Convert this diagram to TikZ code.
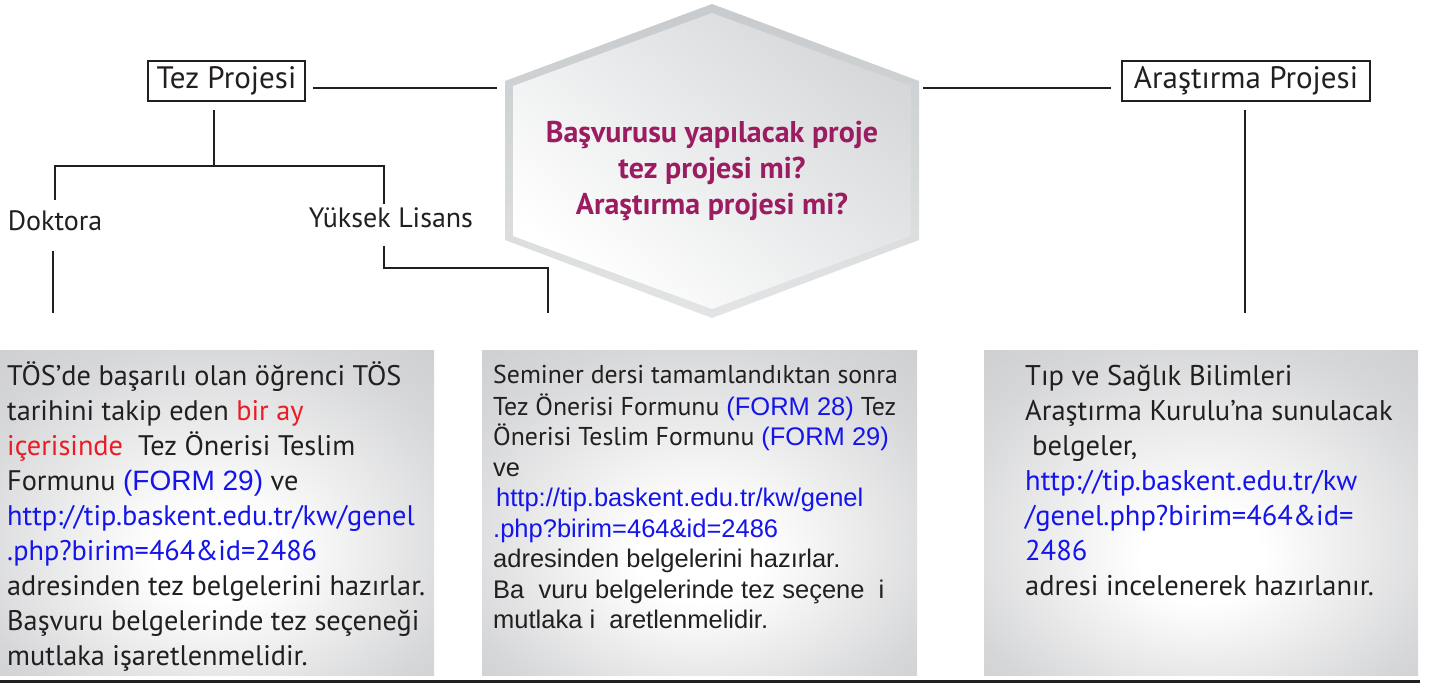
\documentclass[tikz,border=0pt]{standalone}
\usepackage{fontspec}
\setmainfont{PT Sans}
\newfontfamily\arialf{Liberation Sans}
\usetikzlibrary{calc}
\definecolor{ink}{RGB}{35,31,32}
\definecolor{qcol}{RGB}{155,28,96}
\definecolor{lnk}{RGB}{20,20,235}
\definecolor{redt}{RGB}{235,28,36}
\definecolor{boxgray}{RGB}{200,201,203}
\definecolor{hexgray}{RGB}{200,203,205}
\definecolor{hexlight}{RGB}{226,228,229}
\pgfdeclareradialshading{boxshade}{\pgfpoint{0bp}{-8bp}}{color(0bp)=(white); color(7bp)=(white); color(30bp)=(boxgray!75!white); color(44bp)=(boxgray); color(50bp)=(boxgray)}
\newcommand\arL{\arialf\fontsize{28}{35}\selectfont}
\newcommand\arM{\arialf\fontsize{25.5}{30.5}\selectfont}
\tikzset{
  conn/.style={draw=ink, line width=2.6pt},
  lbl/.style={inner sep=0pt, text=ink, font=\fontsize{28}{33}\selectfont},
  framebox/.style={draw=ink, line width=2.2pt, inner sep=0pt, text=ink, font=\fontsize{31}{33}\selectfont, minimum height=40pt},
  infobox/.style={shade, shading=boxshade, anchor=north west, minimum height=325pt, inner sep=0pt},
  infotext/.style={anchor=north west, inner sep=0pt, align=left, text=ink},
}
\begin{document}
\begin{tikzpicture}[x=1pt,y=-1pt]
\useasboundingbox (0,0) rectangle (1440,684);
% hexagon
\coordinate (hN) at (712,4);
\coordinate (hNE) at (919,81);
\coordinate (hSE) at (919,240);
\coordinate (hS) at (712,318);
\coordinate (hSW) at (505,240);
\coordinate (hNW) at (505,81);
\shade[top color=hexgray, bottom color=hexlight] (hN) -- (hNE) -- (hSE) -- (hS) -- (hSW) -- (hNW) -- cycle;
\shade[top color=hexgray!75!white, bottom color=white, shading angle=-40] (712,13) -- (911,86) -- (911,236) -- (712,309) -- (513,236) -- (513,86) -- cycle;
\node[anchor=north, inner sep=0pt, align=center, text=qcol, font=\bfseries\fontsize{30}{36}\selectfont] (q) at (712,117) {\strut Başvurusu yapılacak proje\\tez projesi mi?\\Araştırma projesi mi?};
\coordinate (hexW) at (505,160);
\coordinate (hexE) at (919,160);

% top labels
\node[framebox, minimum width=157pt] (tez) at (226.5,81) {Tez Projesi};
\node[framebox, minimum width=248pt] (ara) at (1246,81) {Araştırma Projesi};
\node[lbl, anchor=base] (dok) at (55,231) {Doktora};
\node[lbl, anchor=base] (yl) at (391,228) {Yüksek Lisans};

% info boxes
\node[infobox, minimum width=434pt] (b1) at (0,350) {};
\node[infobox, minimum width=435pt] (b2) at (482,350) {};
\node[infobox, minimum width=434pt] (b3) at (984,350) {};

\node[infotext, font=\fontsize{28.3}{35}\selectfont] (t1) at (7,360.5) {\strut TÖS’de başarılı olan öğrenci TÖS\\
tarihini takip eden {\color{redt}bir ay}\\
{\color{redt}içerisinde}\ \ Tez Önerisi Teslim\\
Formunu {\arL\color{lnk}(FORM 29)} ve\\
{\color{lnk}http://tip.baskent.edu.tr/kw/genel}\\
{\color{lnk}.php?birim=464\&id=2486}\\
adresinden tez belgelerini hazırlar.\\
Başvuru belgelerinde tez seçeneği\\
mutlaka işaretlenmelidir.};

\node[infotext, font=\fontsize{25.8}{30.5}\selectfont] (t2) at (493,361.6) {\strut Seminer dersi tamamlandıktan sonra\\
Tez Önerisi Formunu {\arM\color{lnk}(FORM 28)} Tez\\
Önerisi Teslim Formunu {\arM\color{lnk}(FORM 29)}\\
{\arM ve}\\
{\arM\color{lnk}\hspace*{3pt}http://tip.baskent.edu.tr/kw/genel}\\
{\arM\color{lnk}.php?birim=464\&id=2486}\\
{\arM adresinden belgelerini hazırlar.}\\
{\arM Ba\ \ vuru belgelerinde tez seçene\ \ i}\\
{\arM mutlaka i\ \ aretlenmelidir.}};

\node[infotext, font=\fontsize{28.5}{35}\selectfont] (t3) at (1025,360.5) {\strut Tıp ve Sağlık Bilimleri\\
Araştırma Kurulu’na sunulacak\\
\hspace*{7pt}belgeler,\\
{\color{lnk}http://tip.baskent.edu.tr/kw}\\
{\color{lnk}/genel.php?birim=464\&id=}\\
{\color{lnk}2486}\\
adresi incelenerek hazırlanır.};

% connectors
\coordinate (tj) at (214,166);
\coordinate (yk) at (548,268);
\coordinate (ak) at (1245,100);
\draw[conn, shorten <=7pt, shorten >=8pt] ([yshift=-7pt]tez.east) -- ([yshift=-7pt]tez.east -| hexW);
\draw[conn, shorten <=4pt, shorten >=10pt] ([yshift=-7pt]hexE |- ara.west) -- ([yshift=-7pt]ara.west);
\draw[conn, shorten <=8pt] (tez.south -| tj) -- (tj);
\draw[conn, shorten <=11pt, shorten >=4pt] (dok.north) |- (tj) -| ([xshift=-7pt]yl.north);
\draw[conn, shorten <=19pt, shorten >=37pt] ([xshift=-2pt]dok.south) -- ([xshift=-2pt]dok.south |- b1.north);
\draw[conn, shorten <=17pt, shorten >=37pt] ([xshift=-7pt]yl.south) |- (yk) -- (yk |- b2.north);
\draw[conn, shorten <=8pt, shorten >=37pt] (ara.south -| ak) -- (ak |- b3.north);

% bottom rule
\draw[line width=3pt, draw=ink] (0,681) -- (1420,681);
\end{tikzpicture}
\end{document}
